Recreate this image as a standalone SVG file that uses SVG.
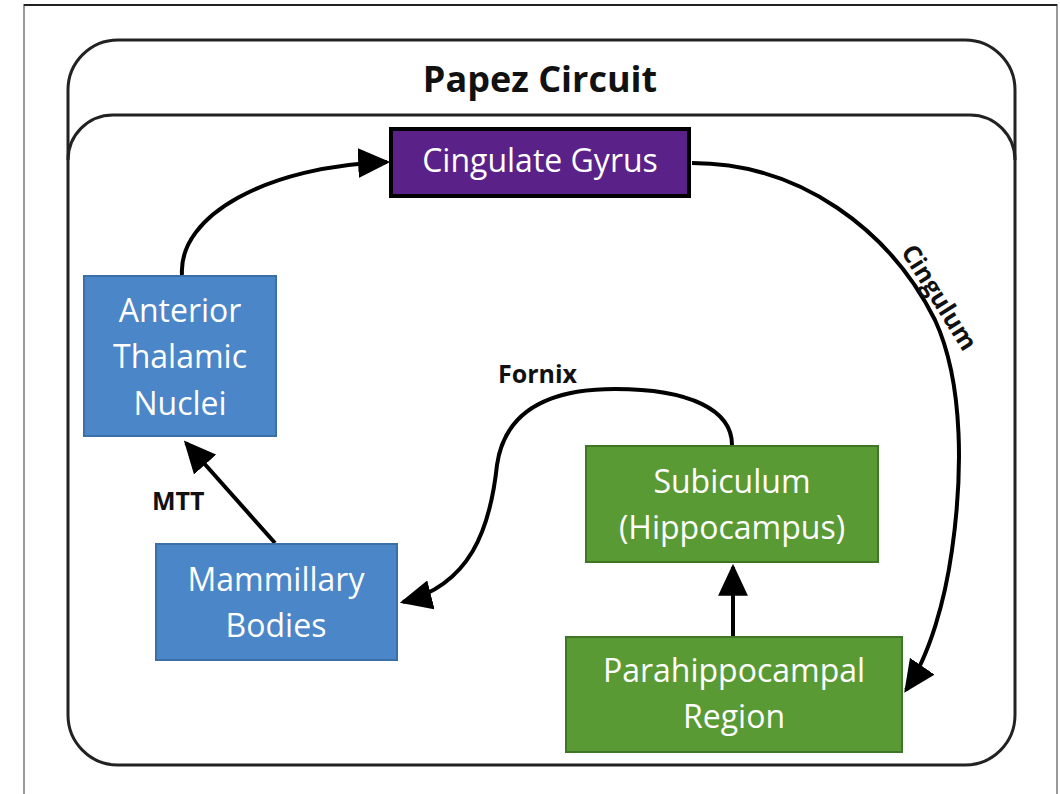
<svg xmlns="http://www.w3.org/2000/svg" width="1060" height="794" viewBox="0 0 1060 794">
<style>
.frame{fill:none;stroke:#222;stroke-width:3}
.lbl{font-family:"Open Sans","Noto Sans",sans-serif;font-size:32px;fill:#fff;text-anchor:middle}
.edge{font-family:"Open Sans","Noto Sans",sans-serif;font-size:25px;font-weight:bold;fill:#111}
.blue{fill:#4A86C8;stroke:#3B6FA8;stroke-width:2}
.green{fill:#5A9A35;stroke:#3E7626;stroke-width:2}
.conn{fill:none;stroke:#000;stroke-width:4;marker-end:url(#arr)}
</style>
<defs>
<marker id="arr" markerUnits="userSpaceOnUse" markerWidth="32" markerHeight="30" viewBox="0 0 30 28" refX="27" refY="14" orient="auto">
<path d="M0,0 L30,14 L0,28 z" fill="#000"/>
</marker>
</defs>
<rect width="1060" height="794" fill="#fff"/>
<path d="M24,800 L24,5 L1057,5 L1057,800" fill="none" stroke="#999" stroke-width="2"/>
<line x1="24" y1="5" x2="1057" y2="5" stroke="#222" stroke-width="2"/>
<g id="container">
<rect class="frame" x="68" y="40" width="947" height="725" rx="50" ry="50"/>
<path class="frame" d="M68,160 A45,45 0 0 1 113,115 L970,115 A45,45 0 0 1 1015,160"/>
<text x="540" y="92" font-family="'Open Sans','Noto Sans',sans-serif" font-size="36" font-weight="bold" fill="#111" text-anchor="middle">Papez Circuit</text>
</g>
<g id="connectors">
<path class="conn" d="M182,275 C178,215 268,166 387,162"/>
<path class="conn" d="M692,163 C800,163 890,230 935,320 C965,385 962,480 952,550 C945,600 930,655 906,690"/>
<path class="conn" d="M732,445 C732,410 690,389 615,389 C550,389 505,410 497,465 C490,530 470,585 403,602"/>
<path class="conn" d="M275,543 L186,443"/>
<path class="conn" d="M733,636 L733,567"/>
<text class="edge" x="498" y="383">Fornix</text>
<text class="edge" x="152" y="510">MTT</text>
<text class="edge" text-anchor="middle" transform="translate(932,302) rotate(58)">Cingulum</text>
</g>
<g id="cingulate">
<rect x="391" y="129" width="298" height="67" fill="#5A2289" stroke="#000" stroke-width="4"/>
<text class="lbl" x="540" y="172">Cingulate Gyrus</text>
</g>
<g id="anterior">
<rect class="blue" x="84" y="276" width="192" height="160"/>
<text class="lbl" x="180" y="322">Anterior</text>
<text class="lbl" x="180" y="368">Thalamic</text>
<text class="lbl" x="180" y="415">Nuclei</text>
</g>
<g id="mammillary">
<rect class="blue" x="156" y="544" width="241" height="116"/>
<text class="lbl" x="276" y="591">Mammillary</text>
<text class="lbl" x="276" y="637">Bodies</text>
</g>
<g id="subiculum">
<rect class="green" x="586" y="446" width="292" height="116"/>
<text class="lbl" x="732" y="493">Subiculum</text>
<text class="lbl" x="732" y="539">(Hippocampus)</text>
</g>
<g id="parahippocampal">
<rect class="green" x="566" y="637" width="336" height="115"/>
<text class="lbl" x="734" y="682">Parahippocampal</text>
<text class="lbl" x="734" y="728">Region</text>
</g>
</svg>
